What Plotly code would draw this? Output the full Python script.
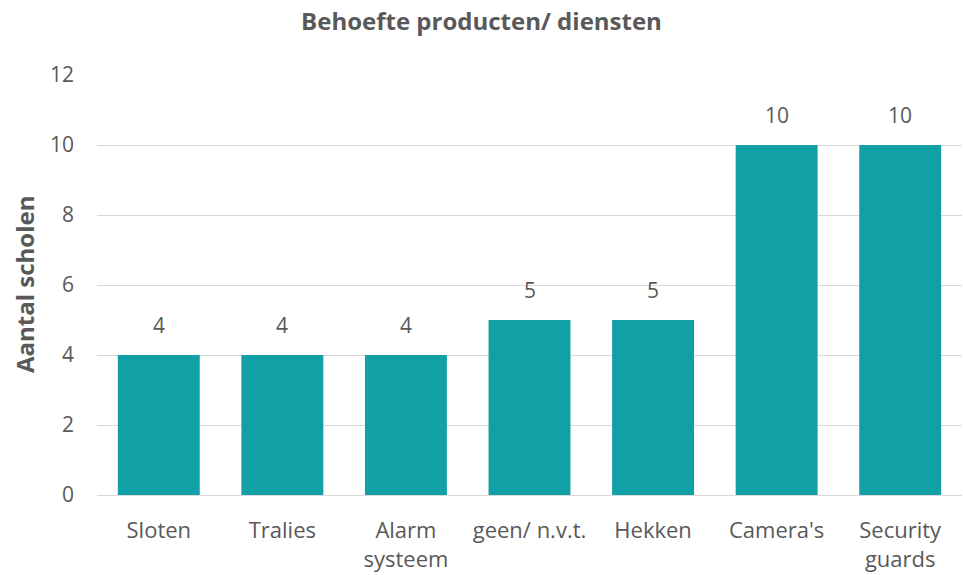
import plotly.graph_objects as go

categories = ["Sloten", "Tralies", "Alarm<br>systeem", "geen/ n.v.t.", "Hekken", "Camera's", "Security<br>guards"]
values = [4, 4, 4, 5, 5, 10, 10]
y_ticks = [0, 2, 4, 6, 8, 10, 12]

grey = "#595959"
font_family = "Open Sans"

W, H = 963, 575

fig = go.Figure(go.Bar(
    x=categories, y=values,
    marker=dict(color="#11A0A5", line=dict(width=0)),
    cliponaxis=False,
))

for c, v in zip(categories, values):
    fig.add_annotation(x=c, y=v, text=str(v), showarrow=False, yanchor="middle", yshift=30,
                       font=dict(family=font_family, size=21, color=grey))

# y-axis title
fig.add_annotation(x=0, y=0.5, xref="paper", yref="paper", text="<b>Aantal scholen</b>",
                   textangle=-90, showarrow=False, xanchor="center", yanchor="middle", xshift=-73,
                   font=dict(family=font_family, size=24, color=grey))

fig.update_layout(
    width=W, height=H,
    paper_bgcolor="white", plot_bgcolor="white",
    margin=dict(l=97, r=1, t=75, b=80),
    bargap=0.337,
    showlegend=False,
    title=dict(text="<b>Behoefte producten/ diensten</b>", x=0.5, xanchor="center",
               y=1 - 22 / H, yanchor="middle",
               font=dict(family=font_family, size=24, color=grey)),
    font=dict(family=font_family, color=grey),
)
fig.update_xaxes(
    showgrid=False, showline=True, linecolor="#D9D9D9", linewidth=1,
    tickfont=dict(family=font_family, size=22, color=grey),
    ticklabelstandoff=16,
)
fig.update_yaxes(
    range=[0, 12], tickvals=y_ticks, showgrid=True, gridcolor="#D9D9D9", gridwidth=1,
    zeroline=False, showline=False,
    tickfont=dict(family=font_family, size=21, color=grey),
    ticklabelstandoff=22,
)

fig.write_html("out.html", config={"displayModeBar": False},
               post_script="document.body.style.margin='0';")
